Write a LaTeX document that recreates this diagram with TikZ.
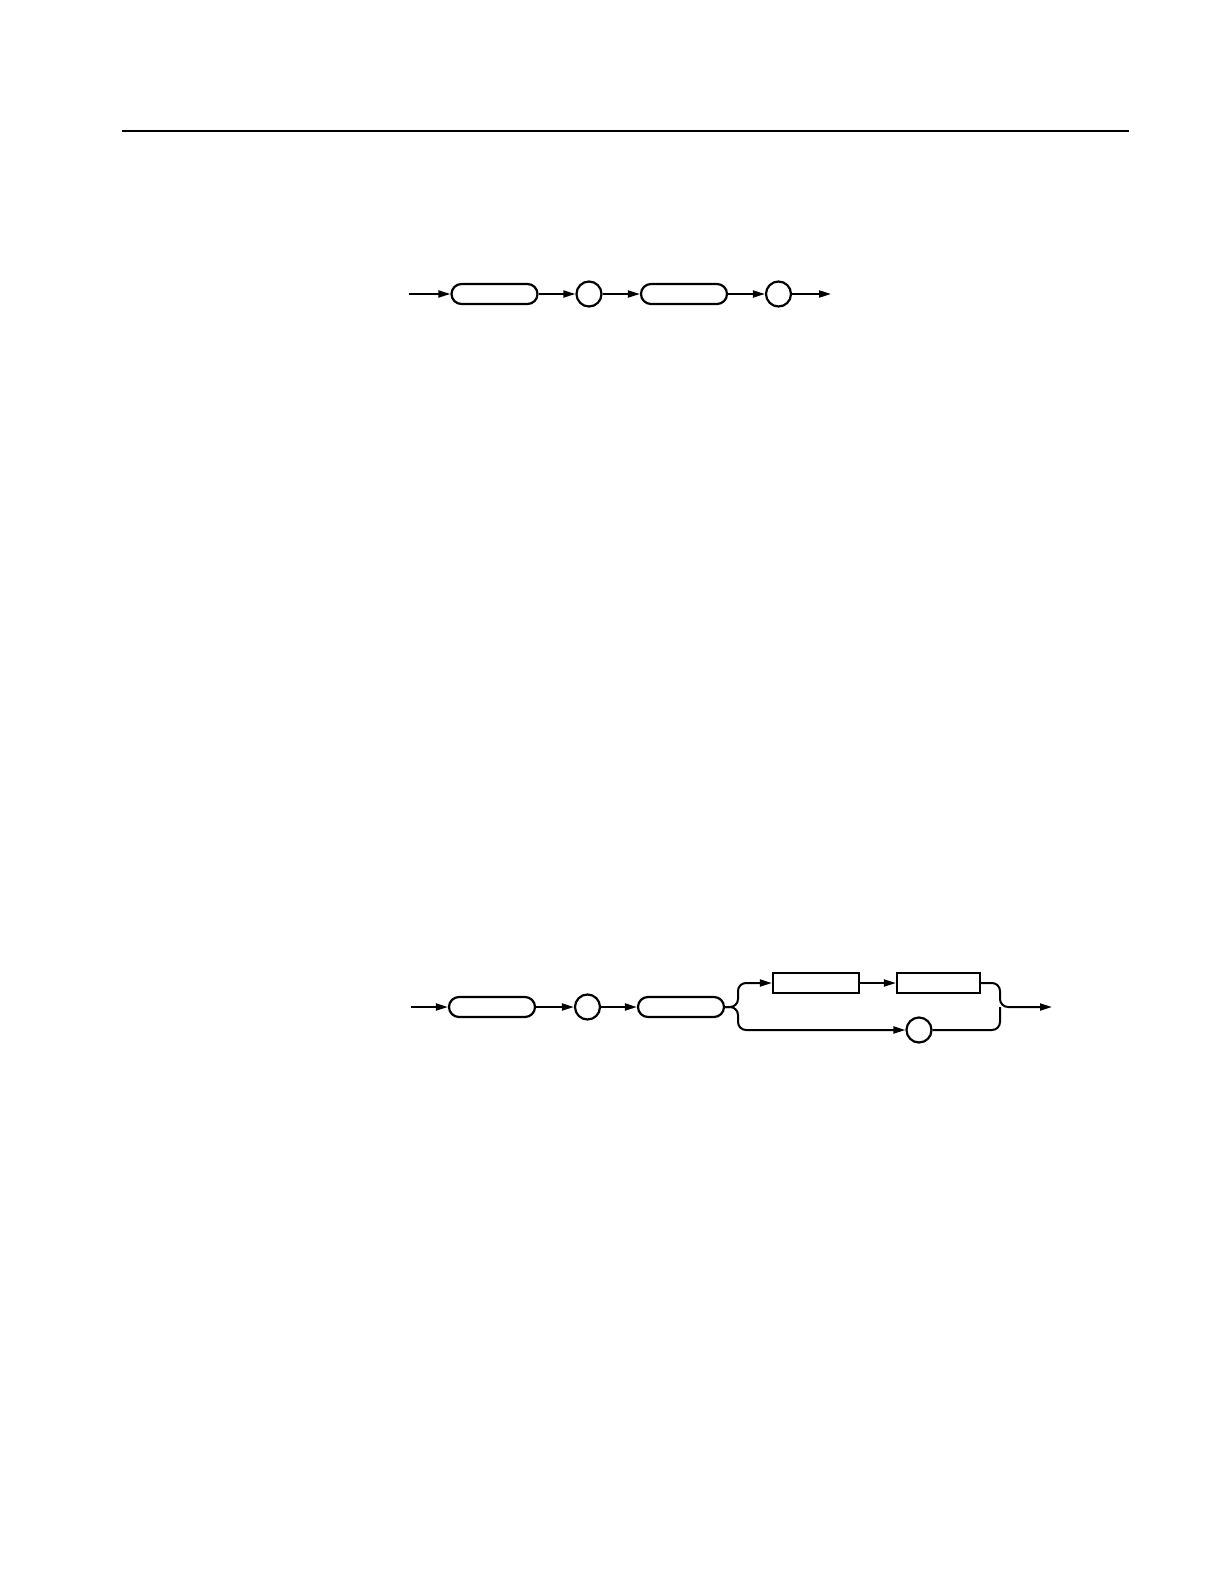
\documentclass[tikz,border=0pt]{standalone}
\usepackage{tikz}
\usetikzlibrary{arrows.meta}
\tikzset{
  syntax/.style={draw,line width=1.1pt,inner sep=0pt},
  keyword/.style={syntax,rounded corners=5pt,minimum width=43pt,minimum height=10pt},
  argument/.style={syntax,minimum width=43pt,minimum height=10pt},
  symbol/.style={syntax,circle,minimum size=12.5pt},
  flow/.style={line width=1pt,-{Triangle[length=6pt,width=3.5pt]}}
}
\begin{document}
\begin{tikzpicture}[x=0.5pt,y=-0.5pt]
\useasboundingbox (0,0) rectangle (1224,1584);
\draw[line width=1pt] (122,131.5) -- (1129,131.5);

\coordinate (inA) at (409,294);
\node[keyword] (cmdA) at (494.5,294) {};
\node[symbol] (sepA) at (589,294) {};
\node[keyword] (cmdB) at (684,294) {};
\node[symbol] (endA) at (778.5,294) {};
\coordinate (outA) at (831,294);
\foreach \a/\b in {inA/cmdA,cmdA/sepA,sepA/cmdB,cmdB/endA,endA/outA}
  \draw[flow] (\a) -- (\b);

\coordinate (inD) at (411,1007);
\node[keyword] (cmdC) at (492,1007) {};
\node[symbol] (sepD) at (587.5,1007) {};
\node[keyword] (cmdD) at (681,1007) {};
\node[argument] (argA) at (816,983) {};
\node[argument,minimum width=41.5pt] (argB) at (938.5,983) {};
\node[symbol] (sepE) at (919,1030) {};
\coordinate (outD) at (1052,1007);
\foreach \a/\b in {inD/cmdC,cmdC/sepD,sepD/cmdD,argA/argB}
  \draw[flow] (\a) -- (\b);
\draw[flow,rounded corners=4pt] (cmdD.east) -- (738,1007) -- (738,983) -- (argA.west);
\draw[flow,rounded corners=4pt] (cmdD.east) -- (738,1007) -- (738,1030) -- (sepE.west);
\draw[flow,rounded corners=4pt] (argB.east) -- (1000,983) -- (1000,1007) -- (outD);
\draw[line width=1pt,rounded corners=4pt] (sepE.east) -- (1000,1030) -- (1000,1007);
\end{tikzpicture}
\end{document}
